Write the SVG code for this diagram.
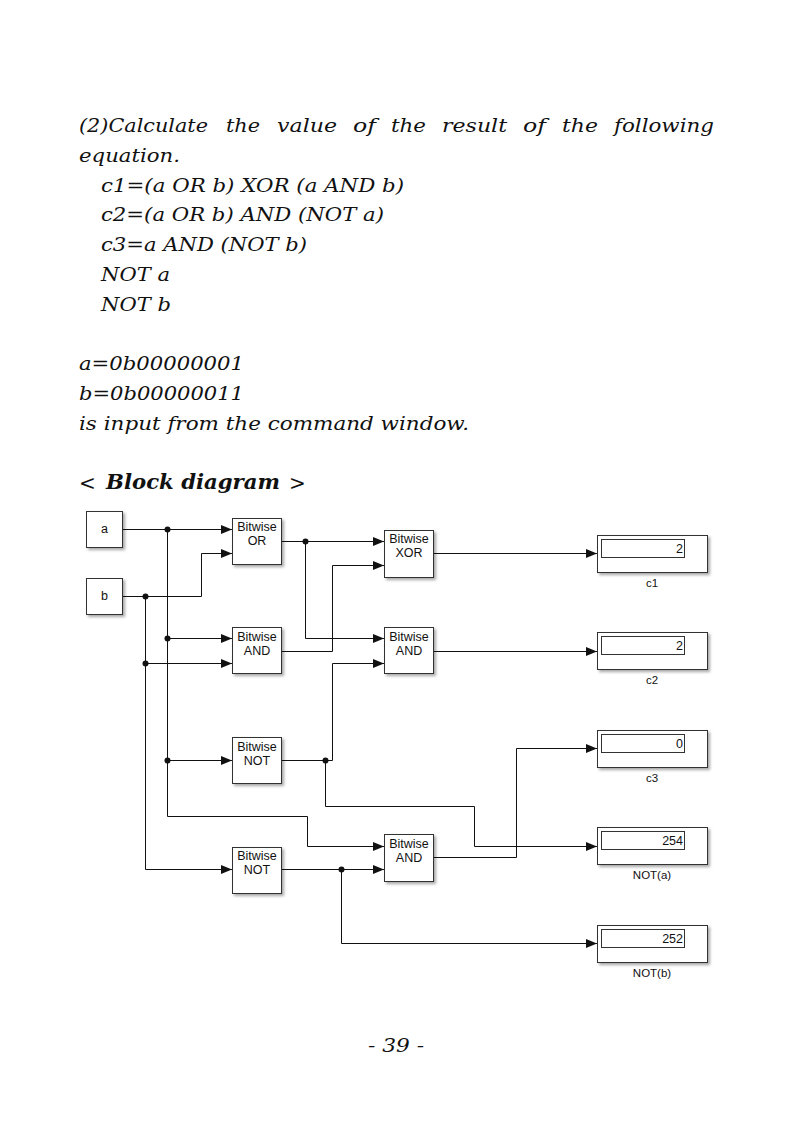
<svg xmlns="http://www.w3.org/2000/svg" width="794" height="1123" viewBox="0 0 794 1123">
<style>
.body{font-family:"DejaVu Serif","Liberation Serif",serif;font-style:italic;font-size:19px;fill:#111}
.head{font-family:"DejaVu Serif","Liberation Serif",serif;font-size:20px;fill:#111}
.blk{fill:#fff;stroke:#333;stroke-width:1}
.bt{font-family:"Liberation Sans",Arial,sans-serif;font-size:12.5px;fill:#111;text-anchor:middle}
.val{font-family:"Liberation Sans",Arial,sans-serif;font-size:12.5px;fill:#111;text-anchor:end}
.lbl{font-family:"Liberation Sans",Arial,sans-serif;font-size:11.5px;fill:#111;text-anchor:middle}
.w{fill:none;stroke:#111;stroke-width:1}
.dot{fill:#111}
</style>
<defs>
<filter id="sh" x="-20%" y="-20%" width="150%" height="150%">
<feDropShadow dx="2" dy="2" stdDeviation="1.5" flood-color="#000" flood-opacity="0.35"/>
</filter>
<marker id="ar" markerUnits="userSpaceOnUse" markerWidth="13" markerHeight="12" refX="11" refY="6" orient="auto">
<path d="M0,1.5 L11,6 L0,10.5 Z" fill="#111"/>
</marker>
</defs>
<rect width="794" height="1123" fill="#fff"/>

<g id="text">
<text class="body" y="132"><tspan x="79" textLength="129" lengthAdjust="spacingAndGlyphs">(2)Calculate</tspan></text>
<text class="body" y="132"><tspan x="226" textLength="34" lengthAdjust="spacingAndGlyphs">the</tspan></text>
<text class="body" y="132"><tspan x="277" textLength="60" lengthAdjust="spacingAndGlyphs">value</tspan></text>
<text class="body" y="132"><tspan x="353" textLength="23" lengthAdjust="spacingAndGlyphs">of</tspan></text>
<text class="body" y="132"><tspan x="391" textLength="35" lengthAdjust="spacingAndGlyphs">the</tspan></text>
<text class="body" y="132"><tspan x="442" textLength="65" lengthAdjust="spacingAndGlyphs">result</tspan></text>
<text class="body" y="132"><tspan x="523" textLength="23" lengthAdjust="spacingAndGlyphs">of</tspan></text>
<text class="body" y="132"><tspan x="562" textLength="36" lengthAdjust="spacingAndGlyphs">the</tspan></text>
<text class="body" y="132"><tspan x="614" textLength="100" lengthAdjust="spacingAndGlyphs">following</tspan></text>
<text class="body" x="79" y="162" textLength="101" lengthAdjust="spacingAndGlyphs">equation.</text>
<text class="body" x="101" y="192" textLength="303" lengthAdjust="spacingAndGlyphs">c1=(a OR b) XOR (a AND b)</text>
<text class="body" x="101" y="221" textLength="283" lengthAdjust="spacingAndGlyphs">c2=(a OR b) AND (NOT a)</text>
<text class="body" x="101" y="251" textLength="206" lengthAdjust="spacingAndGlyphs">c3=a AND (NOT b)</text>
<text class="body" x="101" y="281" textLength="69" lengthAdjust="spacingAndGlyphs">NOT a</text>
<text class="body" x="101" y="311" textLength="70" lengthAdjust="spacingAndGlyphs">NOT b</text>
<text class="body" x="79" y="370" textLength="165" lengthAdjust="spacingAndGlyphs">a=0b00000001</text>
<text class="body" x="79" y="400" textLength="165" lengthAdjust="spacingAndGlyphs">b=0b00000011</text>
<text class="body" x="79" y="430" textLength="390" lengthAdjust="spacingAndGlyphs">is input from the command window.</text>
<text class="head" x="79" y="490" font-size="22" font-weight="300">&lt;</text>
<text class="head" x="106" y="489" font-weight="bold" font-style="italic" textLength="174" lengthAdjust="spacingAndGlyphs">Block diagram</text>
<text class="head" x="289" y="490" font-size="22" font-weight="300">&gt;</text>
<text class="body" x="368" y="1052" textLength="56" lengthAdjust="spacingAndGlyphs">- 39 -</text>
</g>

<g id="connectors">
<path class="w" d="M122,529.5 H232" marker-end="url(#ar)"/>
<path class="w" d="M167.5,529.5 V816.5 H307.5 V846.5 H384" marker-end="url(#ar)"/>
<path class="w" d="M167.5,638.5 H232" marker-end="url(#ar)"/>
<path class="w" d="M167.5,760.5 H232" marker-end="url(#ar)"/>
<path class="w" d="M122,596.5 H201.5 V553.5 H232" marker-end="url(#ar)"/>
<path class="w" d="M145.5,596.5 V869.5 H232" marker-end="url(#ar)"/>
<path class="w" d="M145.5,663.5 H232" marker-end="url(#ar)"/>
<path class="w" d="M281,541.5 H384" marker-end="url(#ar)"/>
<path class="w" d="M305.5,541.5 V638.5 H384" marker-end="url(#ar)"/>
<path class="w" d="M281,651.5 H332.5 V565.5 H384" marker-end="url(#ar)"/>
<path class="w" d="M281,760.5 H332.5 V663.5 H384" marker-end="url(#ar)"/>
<path class="w" d="M325.5,760.5 V806.5 H474.5 V846.5 H597" marker-end="url(#ar)"/>
<path class="w" d="M281,869.5 H384" marker-end="url(#ar)"/>
<path class="w" d="M341.5,869.5 V943.5 H597" marker-end="url(#ar)"/>
<path class="w" d="M433,857.5 H516.5 V748.5 H597" marker-end="url(#ar)"/>
<path class="w" d="M433,553.5 H597" marker-end="url(#ar)"/>
<path class="w" d="M433,651.5 H597" marker-end="url(#ar)"/>
<circle class="dot" cx="167.5" cy="529.5" r="3"/>
<circle class="dot" cx="167.5" cy="638.5" r="3"/>
<circle class="dot" cx="167.5" cy="760.5" r="3"/>
<circle class="dot" cx="145.5" cy="596.5" r="3"/>
<circle class="dot" cx="145.5" cy="663.5" r="3"/>
<circle class="dot" cx="305.5" cy="541.5" r="3"/>
<circle class="dot" cx="325.5" cy="760.5" r="3"/>
<circle class="dot" cx="341.5" cy="869.5" r="3"/>
</g>

<g id="in_a"><rect class="blk" filter="url(#sh)" x="86.5" y="511.5" width="36" height="36"/><text class="bt" x="104.5" y="533" font-size="11">a</text></g>
<g id="in_b"><rect class="blk" filter="url(#sh)" x="86.5" y="578.5" width="36" height="36"/><text class="bt" x="104.5" y="600" font-size="11">b</text></g>

<g id="or"><rect class="blk" filter="url(#sh)" x="232.5" y="518.5" width="49" height="46"/><text class="bt" x="257" y="531">Bitwise</text><text class="bt" x="257" y="545">OR</text></g>
<g id="xor"><rect class="blk" filter="url(#sh)" x="384.5" y="530.5" width="49" height="47"/><text class="bt" x="409" y="543">Bitwise</text><text class="bt" x="409" y="557">XOR</text></g>
<g id="and1"><rect class="blk" filter="url(#sh)" x="232.5" y="627.5" width="49" height="46"/><text class="bt" x="257" y="641">Bitwise</text><text class="bt" x="257" y="655">AND</text></g>
<g id="and2"><rect class="blk" filter="url(#sh)" x="384.5" y="627.5" width="49" height="46"/><text class="bt" x="409" y="641">Bitwise</text><text class="bt" x="409" y="655">AND</text></g>
<g id="not1"><rect class="blk" filter="url(#sh)" x="232.5" y="737.5" width="49" height="46"/><text class="bt" x="257" y="751">Bitwise</text><text class="bt" x="257" y="765">NOT</text></g>
<g id="and3"><rect class="blk" filter="url(#sh)" x="384.5" y="834.5" width="49" height="47"/><text class="bt" x="409" y="848">Bitwise</text><text class="bt" x="409" y="862">AND</text></g>
<g id="not2"><rect class="blk" filter="url(#sh)" x="232.5" y="847.5" width="49" height="46"/><text class="bt" x="257" y="860">Bitwise</text><text class="bt" x="257" y="874">NOT</text></g>

<g id="c1"><rect class="blk" filter="url(#sh)" x="597.5" y="535.5" width="110" height="37"/><rect class="blk" x="601.5" y="539.5" width="83" height="18"/><text class="val" x="683" y="553">2</text><text class="lbl" x="652" y="587">c1</text></g>
<g id="c2"><rect class="blk" filter="url(#sh)" x="597.5" y="632.5" width="110" height="37"/><rect class="blk" x="601.5" y="636.5" width="83" height="18"/><text class="val" x="683" y="650">2</text><text class="lbl" x="652" y="684">c2</text></g>
<g id="c3"><rect class="blk" filter="url(#sh)" x="597.5" y="730.5" width="110" height="37"/><rect class="blk" x="601.5" y="734.5" width="83" height="18"/><text class="val" x="683" y="748">0</text><text class="lbl" x="652" y="782">c3</text></g>
<g id="nota"><rect class="blk" filter="url(#sh)" x="597.5" y="827.5" width="110" height="37"/><rect class="blk" x="601.5" y="831.5" width="83" height="18"/><text class="val" x="683" y="845">254</text><text class="lbl" x="652" y="879">NOT(a)</text></g>
<g id="notb"><rect class="blk" filter="url(#sh)" x="597.5" y="925.5" width="110" height="37"/><rect class="blk" x="601.5" y="929.5" width="83" height="18"/><text class="val" x="683" y="943">252</text><text class="lbl" x="652" y="977">NOT(b)</text></g>
</svg>
